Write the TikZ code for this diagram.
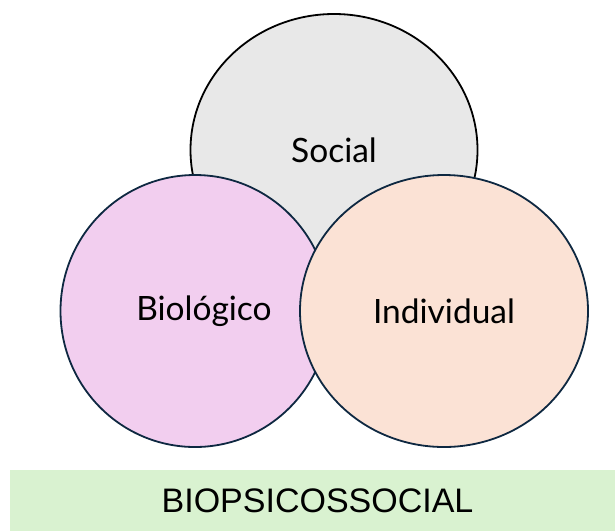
\documentclass[tikz,border=0pt]{standalone}
\usepackage{fontspec}
\setmainfont{Lato}
\newfontfamily\barfont{Liberation Sans}
\usetikzlibrary{shapes.geometric}
\definecolor{socialgray}{HTML}{E8E8E8}
\definecolor{biopink}{HTML}{F2CEEF}
\definecolor{indpeach}{HTML}{FBE2D5}
\definecolor{bargreen}{HTML}{D9F2D0}
\definecolor{edgenavy}{HTML}{0E2841}

\begin{document}
\begin{tikzpicture}[
    x=1pt, y=-1pt,
    sphere/.style={ellipse, draw, line width=1.8pt, inner sep=0pt, minimum height=272pt, font=\fontsize{33.5}{38}\selectfont},
    band/.style={fill=bargreen, inner sep=0pt, minimum width=605pt, minimum height=61pt, font=\barfont\fontsize{34}{40}\selectfont}
]
\useasboundingbox (0,0) rectangle (615,531);

% Circles
\node (social) [sphere, fill=socialgray, draw=black, minimum width=287pt] at (334,150) {Social};
\node (bio) [sphere, fill=biopink, draw=edgenavy, minimum width=269pt] at (195,311) {\hspace{18pt}Biológico};
\node (indiv) [sphere, fill=indpeach, draw=edgenavy, minimum width=288pt] at (444,311) {Individual};

% Bar
\node (bar) [band] at (312.5,500.5) {\hspace{10pt}BIOPSICOSSOCIAL};

\end{tikzpicture}
\end{document}
